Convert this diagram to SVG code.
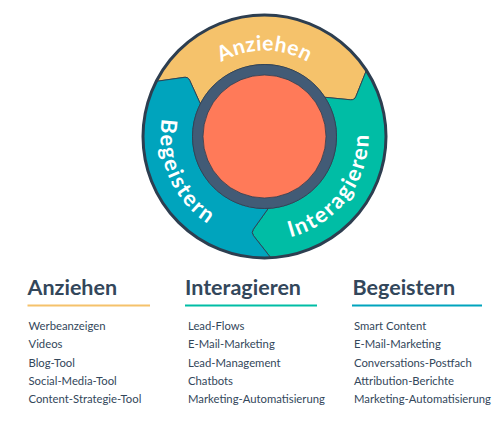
<svg xmlns="http://www.w3.org/2000/svg" width="500" height="422" viewBox="0 0 500 422">
<defs>
<style>
.seg{stroke:#2d3e50;stroke-width:0.9;stroke-linejoin:round}
.wheel{font-family:Lato,"Open Sans",sans-serif;font-weight:700;font-size:21px;fill:#ffffff}
.side{font-size:22px;letter-spacing:1.8px}
.h{font-family:Lato,"Open Sans",sans-serif;font-weight:700;font-size:21.5px;fill:#33475b}
.li{font-family:Lato,"Open Sans",sans-serif;font-weight:400;font-size:11.3px;fill:#33475b}
</style>
<path id="pA" d="M 178.5 136.5 A 86 86 0 0 1 350.5 136.5"/>
<path id="pB" d="M 180.36 75.37 A 104 104 0 0 0 253.63 239.93"/>
<path id="pI" d="M 251.83 239.73 A 104 104 0 0 0 360.23 95.86"/>
</defs>
<rect width="500" height="422" fill="#ffffff"/>
<g id="flywheel">
<g id="seg-anziehen">
<path class="seg" fill="#f5c26b" d="M 156.24 81.34 A 121.5 121.5 0 0 1 366.40 70.33 L 355.93 96.45 Q 354.44 100.16 350.46 99.77 L 324.88 97.29 A 72 72 0 0 0 200.35 103.81 L 189.72 80.42 Q 188.06 76.78 184.10 77.35 Z"/>
<text class="wheel" letter-spacing="0.4"><textPath href="#pA" startOffset="50%" text-anchor="middle">Anziehen</textPath></text>
</g>
<g id="seg-interagieren">
<path class="seg" fill="#00bda5" d="M 366.40 70.33 A 121.5 121.5 0 0 1 270.86 257.83 L 253.47 235.70 Q 251.00 232.56 253.33 229.31 L 268.27 208.40 A 72 72 0 0 0 324.88 97.29 L 350.46 99.77 Q 354.44 100.16 355.93 96.45 Z"/>
<text class="wheel side"><textPath href="#pI" startOffset="50%" text-anchor="middle">Interagieren</textPath></text>
</g>
<g id="seg-begeistern">
<path class="seg" fill="#00a4bd" d="M 270.86 257.83 A 121.5 121.5 0 0 1 156.24 81.34 L 184.10 77.35 Q 188.06 76.78 189.72 80.42 L 200.35 103.81 A 72 72 0 0 0 268.27 208.40 L 253.33 229.31 Q 251.00 232.56 253.47 235.70 Z"/>
<text class="wheel side"><textPath href="#pB" startOffset="50%" text-anchor="middle">Begeistern</textPath></text>
</g>
<circle id="rim" cx="264.5" cy="136.5" r="121.5" fill="none" stroke="#2d3e50" stroke-width="3"/>
<g id="hub">
<circle cx="264.5" cy="136.5" r="72" fill="#425b76" stroke="#2d3e50" stroke-width="0.8"/>
<circle cx="264.5" cy="136.5" r="61.5" fill="#ff7a59" stroke="#2d3e50" stroke-width="0.8"/>
</g>
</g>
<g id="col-anziehen">
<text class="h" x="27.5" y="294.7">Anziehen</text>
<rect x="27.5" y="304.5" width="122.5" height="2" fill="#f5c26b"/>
<text class="li" x="28.5" y="330">Werbeanzeigen</text>
<text class="li" x="28.5" y="348.3">Videos</text>
<text class="li" x="28.5" y="366.7">Blog-Tool</text>
<text class="li" x="28.5" y="385">Social-Media-Tool</text>
<text class="li" x="28.5" y="403.3">Content-Strategie-Tool</text>
</g>
<g id="col-interagieren">
<text class="h" x="185" y="294.7">Interagieren</text>
<rect x="185" y="304.5" width="132" height="2" fill="#00bda5"/>
<text class="li" x="188" y="330">Lead-Flows</text>
<text class="li" x="188" y="348.3">E-Mail-Marketing</text>
<text class="li" x="188" y="366.7">Lead-Management</text>
<text class="li" x="188" y="385">Chatbots</text>
<text class="li" x="188" y="403.3">Marketing-Automatisierung</text>
</g>
<g id="col-begeistern">
<text class="h" x="352.5" y="294.7">Begeistern</text>
<rect x="352" y="304.5" width="130" height="2" fill="#00a4bd"/>
<text class="li" x="354" y="330">Smart Content</text>
<text class="li" x="354" y="348.3">E-Mail-Marketing</text>
<text class="li" x="354" y="366.7">Conversations-Postfach</text>
<text class="li" x="354" y="385">Attribution-Berichte</text>
<text class="li" x="354" y="403.3">Marketing-Automatisierung</text>
</g>
</svg>
